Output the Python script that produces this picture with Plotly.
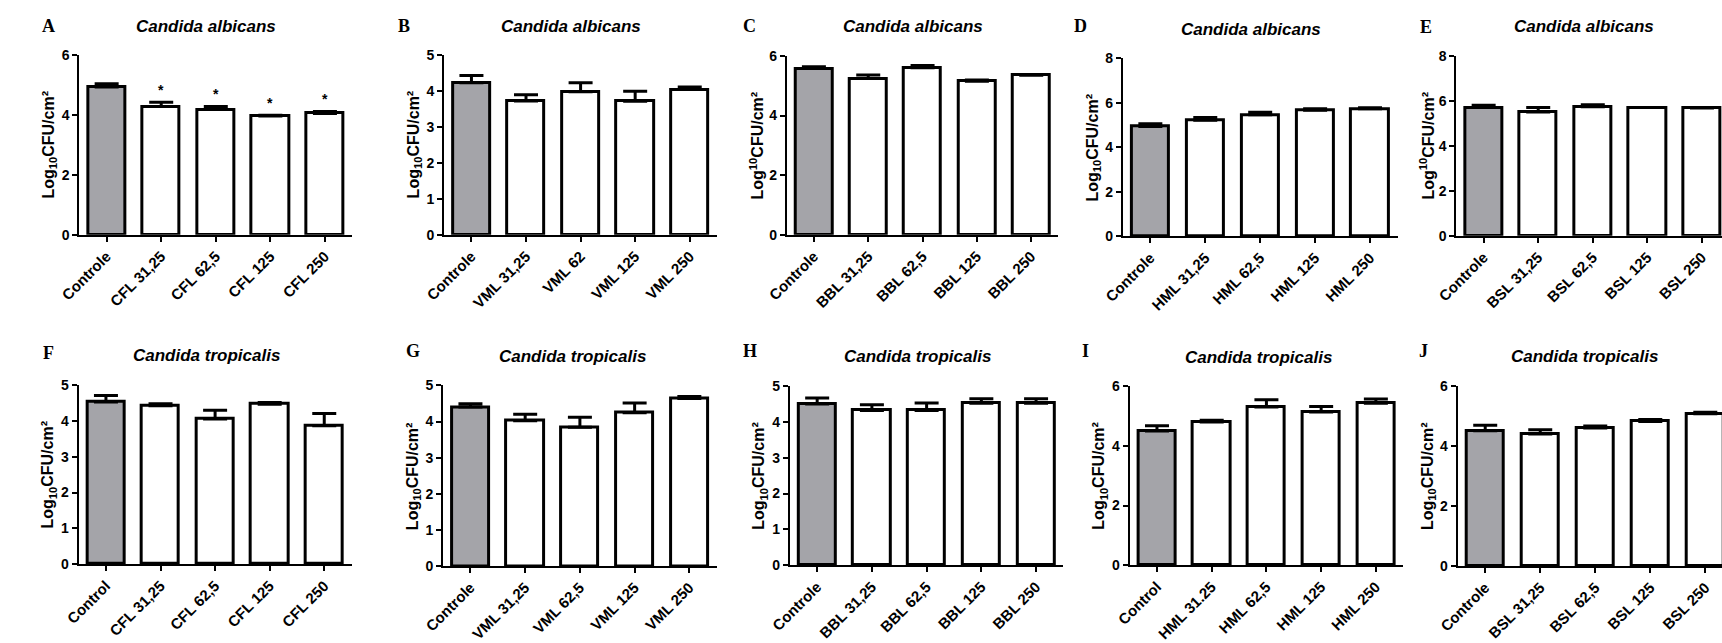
import plotly.graph_objects as go

W, H = 1722, 643

# ---------------- data ----------------
letters = ["A", "B", "C", "D", "E", "F", "G", "H", "I", "J"]
species_top = "Candida albicans"
species_bottom = "Candida tropicalis"

cats_A = ["Controle", "CFL 31,25", "CFL 62,5", "CFL 125", "CFL 250"]
cats_B = ["Controle", "VML 31,25", "VML 62", "VML 125", "VML 250"]
cats_C = ["Controle", "BBL 31,25", "BBL 62,5", "BBL 125", "BBL 250"]
cats_D = ["Controle", "HML 31,25", "HML 62,5", "HML 125", "HML 250"]
cats_E = ["Controle", "BSL 31,25", "BSL 62,5", "BSL 125", "BSL 250"]
cats_F = ["Control", "CFL 31,25", "CFL 62,5", "CFL 125", "CFL 250"]
cats_G = ["Controle", "VML 31,25", "VML 62,5", "VML 125", "VML 250"]
cats_H = ["Controle", "BBL 31,25", "BBL 62,5", "BBL 125", "BBL 250"]
cats_I = ["Control", "HML 31.25", "HML 62,5", "HML 125", "HML 250"]
cats_J = ["Controle", "BSL 31,25", "BSL 62,5", "BSL 125", "BSL 250"]

mean_A = [4.93, 4.28, 4.18, 3.96, 4.05]
err_A = [0.11, 0.14, 0.10, 0.03, 0.06]
mean_B = [4.23, 3.72, 3.98, 3.71, 4.04]
err_B = [0.20, 0.17, 0.25, 0.28, 0.07]
mean_C = [5.58, 5.24, 5.60, 5.15, 5.35]
err_C = [0.06, 0.12, 0.08, 0.04, 0.03]
mean_D = [4.93, 5.22, 5.46, 5.67, 5.73]
err_D = [0.13, 0.12, 0.11, 0.06, 0.05]
mean_E = [5.70, 5.51, 5.74, 5.70, 5.68]
err_E = [0.11, 0.19, 0.09, 0.01, 0.03]
mean_F = [4.52, 4.42, 4.05, 4.46, 3.86]
err_F = [0.18, 0.05, 0.24, 0.05, 0.34]
mean_G = [4.40, 4.02, 3.84, 4.24, 4.64]
err_G = [0.09, 0.18, 0.28, 0.27, 0.05]
mean_H = [4.50, 4.32, 4.32, 4.52, 4.52]
err_H = [0.17, 0.16, 0.21, 0.13, 0.13]
mean_I = [4.50, 4.80, 5.30, 5.13, 5.43]
err_I = [0.17, 0.06, 0.24, 0.19, 0.14]
mean_J = [4.51, 4.40, 4.60, 4.82, 5.08]
err_J = [0.18, 0.14, 0.07, 0.07, 0.05]

# significance marks (panel A, treated groups only)
sig_idx_A = [1, 2, 3, 4]

ymax_list = [6, 5, 6, 8, 8, 5, 5, 5, 6, 6]
dtick_list = [2, 1, 2, 2, 2, 1, 1, 1, 2, 2]
ytitle_sub = "Log<sub>10</sub>CFU/cm²"
ytitle_sup = "Log<sup>10</sup>CFU/cm²"
ytitles = [ytitle_sub, ytitle_sub, ytitle_sup, ytitle_sub, ytitle_sup,
           ytitle_sub, ytitle_sub, ytitle_sub, ytitle_sub, ytitle_sub]

cats_all = [cats_A, cats_B, cats_C, cats_D, cats_E, cats_F, cats_G, cats_H, cats_I, cats_J]
means_all = [mean_A, mean_B, mean_C, mean_D, mean_E, mean_F, mean_G, mean_H, mean_I, mean_J]
errs_all = [err_A, err_B, err_C, err_D, err_E, err_F, err_G, err_H, err_I, err_J]

# ---------------- layout (pixel geometry) ----------------
# first category centre x, category spacing px, y of zero px, y of top px
geom = [
    (86.7, 55.25, 233.3, 48.3),
    (456.0, 55.25, 233.3, 48.3),
    (802.7, 55.0, 233.3, 49.3),
    (1143.3, 55.6, 235.0, 51.7),
    (1480.7, 55.25, 234.3, 49.3),
    (86.0, 55.25, 572.3, 387.7),
    (455.0, 55.4, 574.0, 388.3),
    (806.0, 55.4, 573.3, 389.0),
    (1150.0, 55.4, 573.3, 389.0),
    (1482.3, 55.7, 574.0, 389.0),
]
letter_pos = [(28, 19), (388, 19), (737, 19), (1073, 19), (1422, 20),
              (28, 355), (397, 353), (738, 353), (1078, 353), (1420, 353)]
title_pos = [(187, 19), (557, 19), (903, 19), (1245, 22), (1582, 19),
             (188, 358), (558, 359), (908, 359), (1253, 360), (1583, 359)]
YTITLE_GAP = 30  # px left of the y axis line

FONT = "Liberation Sans, Arial, sans-serif"
GREY = "#a4a4a9"

fig = go.Figure()
annotations = []
layout_axes = {}

for i in range(10):
    c0, sp, y0, yt = geom[i]
    ax_x = c0 - 0.5 * sp
    xr_lo, xr_hi = -0.5, 4.5
    x_end = ax_x + (xr_hi - xr_lo) * sp
    if x_end > W:
        x_end = W
        xr_hi = (W - ax_x) / sp + xr_lo
    xdom = [ax_x / W, x_end / W]
    ydom = [(H - y0) / H, (H - yt) / H]
    n = i + 1
    xa = "x" if n == 1 else f"x{n}"
    ya = "y" if n == 1 else f"y{n}"
    xkey = "xaxis" if n == 1 else f"xaxis{n}"
    ykey = "yaxis" if n == 1 else f"yaxis{n}"

    colors = [GREY] + ["white"] * 4
    fig.add_trace(go.Bar(
        x=list(range(5)), y=means_all[i], width=0.68,
        marker=dict(color=colors, line=dict(color="black", width=3)),
        error_y=dict(type="data", symmetric=False, array=errs_all[i],
                     arrayminus=[0] * 5, color="black", thickness=3, width=12),
        xaxis=xa, yaxis=ya, showlegend=False, hoverinfo="skip",
    ))

    layout_axes[xkey] = dict(
        domain=xdom, anchor=ya, range=[xr_lo, xr_hi],
        tickmode="array", tickvals=list(range(5)), ticktext=cats_all[i],
        tickangle=-45, ticks="outside", ticklen=5, tickwidth=2, tickcolor="black",
        showline=True, linecolor="black", linewidth=2, showgrid=False, zeroline=False,
        tickfont=dict(family=FONT, size=15, color="black", weight="bold"),
        fixedrange=True,
    )
    layout_axes[ykey] = dict(
        domain=ydom, anchor=xa, range=[0, ymax_list[i]], dtick=dtick_list[i], tick0=0,
        ticks="outside", ticklen=5, tickwidth=2, tickcolor="black",
        showline=True, linecolor="black", linewidth=2, showgrid=False, zeroline=False,
        tickfont=dict(family=FONT, size=14, color="black", weight="bold"),
        fixedrange=True,
    )

    lx, ly = letter_pos[i]
    annotations.append(dict(
        text=letters[i], x=lx / W, y=1 - ly / H, xref="paper", yref="paper",
        showarrow=False, xanchor="center", yanchor="middle",
        font=dict(family="Liberation Serif, Times New Roman, serif", size=18,
                  color="black", weight="bold"),
    ))
    tx, ty = title_pos[i]
    annotations.append(dict(
        text=species_top if i < 5 else species_bottom,
        x=tx / W, y=1 - ty / H, xref="paper", yref="paper",
        showarrow=False, xanchor="center", yanchor="middle",
        font=dict(family=FONT, size=17, color="black", weight="bold", style="italic"),
    ))
    annotations.append(dict(
        text=ytitles[i], x=(ax_x - YTITLE_GAP) / W, y=1 - (y0 + yt) / 2 / H,
        xref="paper", yref="paper",
        showarrow=False, xanchor="center", yanchor="middle", textangle=-90,
        font=dict(family=FONT, size=16, color="black", weight="bold"),
    ))

# significance asterisks for panel A, placed just above each error bar
for k in sig_idx_A:
    annotations.append(dict(
        text="*", x=k, y=mean_A[k] + err_A[k] + 0.42, xref="x", yref="y",
        showarrow=False, xanchor="center", yanchor="middle",
        font=dict(family=FONT, size=14, color="black", weight="bold"),
    ))

fig.update_layout(
    width=W, height=H, margin=dict(l=0, r=0, t=0, b=0),
    paper_bgcolor="white", plot_bgcolor="white",
    annotations=annotations, bargap=0, showlegend=False,
    **layout_axes,
)

fig.write_html("out.html")
